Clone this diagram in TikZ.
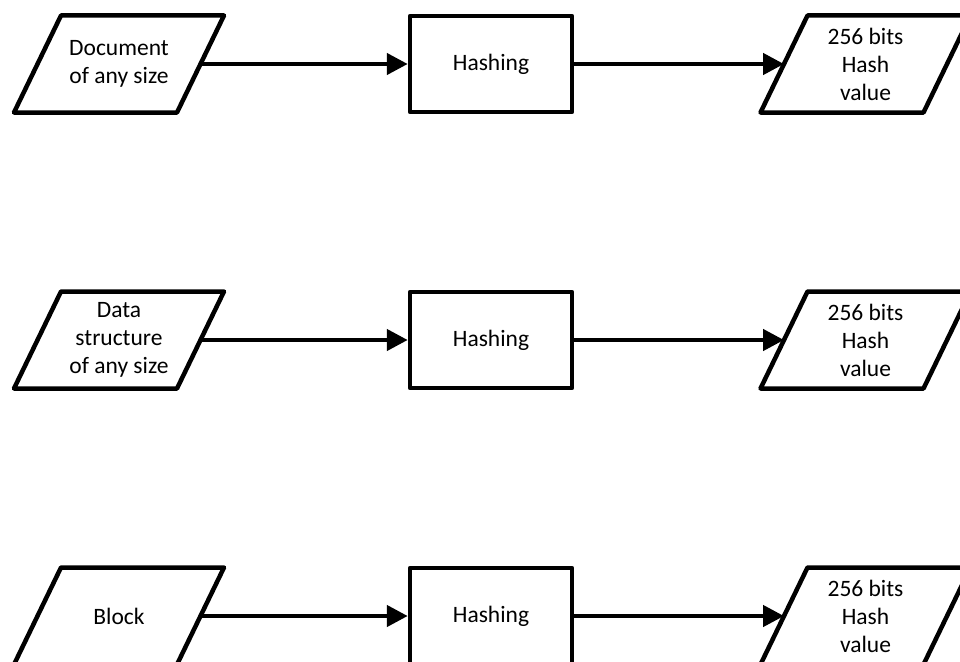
\documentclass[tikz,border=0pt]{standalone}
\usepackage{fontspec}
\setmainfont{Carlito}
\usetikzlibrary{arrows.meta}

\tikzset{
  lbl/.style={font=\fontsize{23.5}{28}\selectfont, align=center},
  outline/.style={draw, line width=4.5pt, line join=round},
  % text area of an input/output parallelogram, measured at mid height
  iobox/.style={lbl, rectangle, minimum width=163pt, minimum height=97pt,
    inner sep=0pt, outer sep=0pt},
  procbox/.style={lbl, outline, rectangle, minimum width=162pt,
    minimum height=96pt, inner sep=0pt},
  flow/.style={line width=4.5pt, -{Triangle[length=21pt,width=21pt]}}
}
% slanted outline round an iobox node
\newcommand\ioframe[1]{%
  \draw[outline] ([xshift=23.5pt]#1.north west) -- ([xshift=23.5pt]#1.north east)
    -- ([xshift=-23.5pt]#1.south east) -- ([xshift=-23.5pt]#1.south west) -- cycle;}

\begin{document}
\begin{tikzpicture}[x=1pt,y=-1pt]
  \useasboundingbox (0,0) rectangle (960,661);
  \clip (0,0) rectangle (960,661);

  % first pipeline: document
  \node[iobox]   (in1)   at (119,64)   {Document\\of any size};
  \node[procbox] (hash1) at (491,64)   {Hashing};
  \node[iobox]   (out1)  at (865.5,64) {256 bits\\Hash\\value};
  \ioframe{in1} \ioframe{out1}
  \draw[flow] (in1.east) -- (hash1.west);
  \draw[flow] (hash1.east) -- (out1.west);

  % second pipeline: data structure
  \node[iobox]   (in2)   at (119,340)   {Data\\structure\\of any size};
  \node[procbox] (hash2) at (491,340)   {Hashing};
  \node[iobox]   (out2)  at (865.5,340) {256 bits\\Hash\\value};
  \ioframe{in2} \ioframe{out2}
  \draw[flow] (in2.east) -- (hash2.west);
  \draw[flow] (hash2.east) -- (out2.west);

  % third pipeline: block
  \node[iobox]   (in3)   at (119,616)   {Block};
  \node[procbox] (hash3) at (491,616)   {Hashing};
  \node[iobox]   (out3)  at (865.5,616) {256 bits\\Hash\\value};
  \ioframe{in3} \ioframe{out3}
  \draw[flow] (in3.east) -- (hash3.west);
  \draw[flow] (hash3.east) -- (out3.west);
\end{tikzpicture}
\end{document}
